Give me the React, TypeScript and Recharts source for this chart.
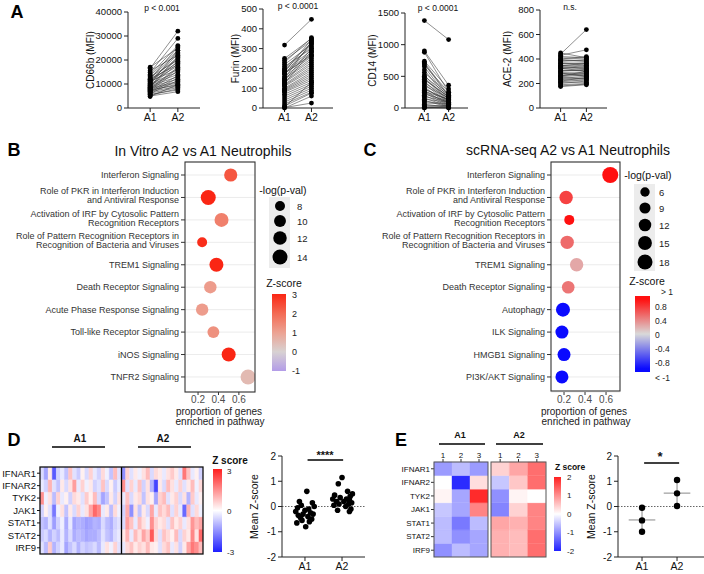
import React from 'react';
import {
  LineChart, Line, XAxis, YAxis, ScatterChart, Scatter, ZAxis, Cell,
  CartesianGrid, BarChart, Bar, ReferenceLine,
} from 'recharts';

const FONT = '"Liberation Sans", Arial, Helvetica, sans-serif';

// ---------------- Panel A data ----------------
const groups = ['A1', 'A2'];
const cd66bA1 = [17000,16500,15500,14800,14000,13500,13000,12500,12200,12000,11800,11500,11200,11000,10800,10500,10200,10000,9800,9500,9300,9000,8800,8600,8400,8200,8000,7800,7600,7400,7200,7000,6800,6500,6200,6000,5700,5400,5000,4800];
const cd66bA2 = [25000,32000,22000,29000,26000,24000,20000,23000,18000,25500,21000,19000,16000,22500,17500,20500,15000,24000,14000,19500,13000,18500,12000,21500,11000,17000,10500,16500,9500,15500,10000,13500,9000,12500,8500,11500,7500,8000,6800,9800];
const furinA1 = [318,250,240,230,220,210,200,195,190,185,180,175,170,160,150,145,140,135,130,125,120,115,110,100,95,90,85,80,70,60,50,40,30,20,10,5,2,0,150,175];
const furinA2 = [448,350,340,355,320,300,330,310,290,345,280,270,325,260,250,240,300,230,220,285,210,200,190,180,170,160,150,140,130,120,110,100,90,80,75,130,25,60,335,265];
const cd14A1 = [1380,900,880,740,720,700,680,650,600,560,520,500,480,450,420,400,380,350,330,300,280,260,240,220,200,180,160,140,120,100,80,60,40,20,10,5,0,300,250,450];
const cd14A2 = [1080,360,250,300,200,180,250,150,120,220,100,200,90,180,80,150,70,160,60,120,50,140,40,110,30,100,20,90,15,70,60,10,40,30,5,0,20,130,80,170];
const ace2A1 = [440,430,420,410,400,390,380,370,360,350,340,330,320,310,300,290,280,270,260,250,240,230,220,210,200,190,180,175,450,345,325,265,305,285,255,235,215,395,365,335];
const ace2A2 = [640,475,410,400,420,380,395,360,370,330,350,320,340,300,310,280,290,270,300,240,260,230,250,210,220,200,195,190,410,365,300,280,315,260,270,245,230,385,350,325];

// ---------------- Panel B data ----------------
const pathwaysB = [
  'Interferon Signaling',
  'Role of PKR in Interferon Induction\nand Antiviral Response',
  'Activation of IRF by Cytosolic Pattern\nRecognition Receptors',
  'Role of Pattern Recognition Receptors in\nRecognition of Bacteria and Viruses',
  'TREM1 Signaling',
  'Death Receptor Signaling',
  'Acute Phase Response Signaling',
  'Toll-like Receptor Signaling',
  'iNOS Signaling',
  'TNFR2 Signaling',
];
const propB = [0.52, 0.30, 0.43, 0.24, 0.38, 0.32, 0.24, 0.35, 0.50, 0.69];
const logpB = [11.5, 14, 12.6, 8, 12.6, 10.6, 10.6, 10, 12.6, 14];
const zB = [2.3, 3, 1.6, 2.9, 3, 1.1, 1.1, 1.3, 3, 0.5];
const sizeLegendB = [8, 10, 12, 14];
const zTicksB = [3, 2, 1, 0, -1];

// ---------------- Panel C data ----------------
const pathwaysC = [
  'Interferon Signaling',
  'Role of PKR in Interferon Induction\nand Antiviral Response',
  'Activation of IRF by Cytosolic Pattern\nRecognition Receptors',
  'Role of Pattern Recognition Receptors in\nRecognition of Bacteria and Viruses',
  'TREM1 Signaling',
  'Death Receptor Signaling',
  'Autophagy',
  'ILK Signaling',
  'HMGB1 Signaling',
  'PI3K/AKT Signaling',
];
const propC = [0.64, 0.22, 0.25, 0.23, 0.32, 0.24, 0.19, 0.18, 0.20, 0.18];
const logpC = [20.8, 14, 7, 14, 14, 12.2, 15.5, 13.1, 13.1, 13.1];
const zC = [1.2, 0.75, 1.0, 0.55, 0.25, 0.5, -1.2, -1.2, -1.2, -1.2];
const sizeLegendC = [6, 9, 12, 15, 18];
const zTicksC = ['> 1', '0.8', '0.4', '0', '-0.4', '-0.8', '< -1'];

// ---------------- Panel D data ----------------
const genes = ['IFNAR1', 'IFNAR2', 'TYK2', 'JAK1', 'STAT1', 'STAT2', 'IRF9'];
const heatD_A1 = [
  [-0.5,-1.2,0.3,-2.2,-0.6,-0.3,-0.8,0.8,-0.4,-0.7,0.2,-0.5,0.6,-0.3,-0.6,0.5,-0.2,-0.8,0.9,-0.4],
  [-0.3,-0.6,1.0,-0.4,-0.8,0.3,-0.5,0.4,1.3,-0.3,0.6,-0.2,0.3,-0.6,-0.4,0.8,-0.5,0.2,-0.7,-0.3],
  [1.5,-0.2,0.4,-0.9,0.6,-0.3,0.2,-0.6,0.5,0.3,-0.4,0.7,0.2,0.9,-0.5,-1.2,-0.8,0.3,-0.6,0.4],
  [-0.6,0.2,-0.4,-1.8,-0.2,0.4,-0.8,0.3,-0.5,0.6,-0.3,0.4,1.2,2.0,1.6,-0.3,0.3,-0.9,0.5,-0.2],
  [-0.8,-1.0,-0.4,-1.3,-0.6,-0.2,-1.1,-0.3,-1.2,-1.0,-1.1,-1.3,-1.2,-1.0,-1.1,-0.5,-0.9,-1.1,-0.6,-0.4],
  [-0.7,-0.5,-1.0,-0.6,-0.9,-0.3,-1.0,-0.5,-1.1,-0.9,-1.0,-1.2,-1.1,-1.1,-0.9,-0.4,-0.8,-1.0,-0.5,-0.3],
  [-0.4,-0.9,0.7,-1.0,-0.6,-0.3,-1.2,-0.8,-0.5,-1.0,-0.6,-0.8,-0.7,-0.5,-0.9,-0.3,0.4,-0.2,0.6,-0.4],
];
const heatD_A2 = [
  [-1.5,0.6,-0.4,0.3,-0.2,0.4,0.9,-0.5,0.5,0.3,-0.3,0.4,0.7,0.3,-0.4,1.8,0.8,-0.3,0.2,-0.6],
  [1.5,-0.4,0.6,-0.3,0.8,-0.6,0.4,-1.0,-2.5,0.3,-0.5,0.9,0.4,-0.3,0.6,-0.4,0.3,0.9,-0.2,0.5],
  [-0.3,0.8,-0.5,0.3,0.5,-0.8,0.4,0.2,-1.2,0.6,0.9,-0.4,0.3,0.6,-0.5,0.4,-1.0,0.7,-0.3,0.2],
  [-0.6,1.1,-1.5,0.4,-0.8,0.3,-0.5,1.2,-0.3,0.8,0.5,0.9,-0.4,0.6,-0.3,-2.0,1.0,-0.4,0.5,-0.2],
  [-0.5,1.3,0.8,-0.3,0.9,0.4,-0.2,1.5,0.6,0.3,0.5,-0.4,0.8,0.3,0.6,-0.3,0.4,1.4,0.9,1.2],
  [0.3,1.0,-0.3,0.9,0.4,1.2,0.7,2.2,0.5,-0.4,0.8,0.5,0.2,0.9,-0.5,0.6,0.3,1.6,0.4,2.0],
  [-0.3,0.5,0.8,0.3,0.6,0.4,0.9,0.3,0.2,-0.4,0.5,0.8,-0.3,0.4,-0.6,0.3,1.2,1.8,1.5,0.9],
];
const meanZD_A1 = [0.6,0.2,0.15,0.05,0.0,-0.05,-0.1,-0.15,-0.2,-0.25,-0.3,-0.3,-0.35,-0.4,-0.45,-0.5,-0.55,-0.6,-0.65,-0.8];
const jitD_A1 = [0.05,-0.15,0.2,-0.1,0.25,-0.2,0.1,0.0,-0.25,0.15,-0.05,0.22,-0.18,0.08,-0.12,0.18,-0.08,0.12,-0.22,0.02];
const meanZD_A2 = [1.15,0.9,0.6,0.5,0.45,0.4,0.35,0.3,0.3,0.25,0.2,0.2,0.15,0.1,0.1,0.05,0.0,-0.1,-0.15,-0.2];
const jitD_A2 = [0.0,-0.1,0.15,0.28,-0.2,0.22,-0.05,0.12,-0.25,0.2,0.05,-0.15,0.26,-0.08,0.18,-0.22,0.1,0.24,-0.12,0.2];

// ---------------- Panel E data ----------------
const sampleNums = ['1', '2', '3'];
const heatE_A1 = [
  [-0.9,-0.6,-0.9],
  [0.0,-1.9,0.3],
  [0.1,-0.8,1.9],
  [-0.5,-0.8,1.1],
  [-0.6,-1.2,-0.6],
  [-0.6,-1.0,-0.8],
  [-1.0,-0.6,-0.8],
];
const heatE_A2 = [
  [0.4,0.8,1.3],
  [-0.5,0.5,1.3],
  [-1.0,0.1,0.0],
  [-1.1,0.4,1.1],
  [0.8,0.7,1.1],
  [0.7,0.6,1.3],
  [0.7,0.6,1.3],
];
const meanZE_A1 = [-0.05, -0.55, -1.0];
const meanZE_A2 = [1.05, 0.52, 0.02];

// ---------------- colour helpers ----------------
type Stop = [number, string];
const hexRgb = (h: string) => [1, 3, 5].map((i) => parseInt(h.slice(i, i + 2), 16));
function ramp(stops: Stop[], v: number): string {
  const t = Math.max(stops[0][0], Math.min(stops[stops.length - 1][0], v));
  for (let i = 0; i < stops.length - 1; i++) {
    const [a, ca] = stops[i];
    const [b, cb] = stops[i + 1];
    if (t >= a && t <= b) {
      const f = (t - a) / (b - a);
      const A = hexRgb(ca), B = hexRgb(cb);
      const c = A.map((x, k) => Math.round(x + (B[k] - x) * f));
      return `rgb(${c[0]},${c[1]},${c[2]})`;
    }
  }
  return stops[stops.length - 1][1];
}
const rampB: Stop[] = [[-1, '#b39ce8'], [0, '#d8d2d2'], [1, '#eca292'], [2, '#f36a53'], [3, '#fa2614']];
const rampC: Stop[] = [[-1, '#0a0aff'], [0, '#d9d9d9'], [1, '#ff1010']];
const rampD: Stop[] = [[-3, '#1e1eff'], [0, '#ffffff'], [3, '#ff1e1e']];
const rampE: Stop[] = [[-2, '#2020ff'], [0, '#ffffff'], [2, '#ff2020']];

// ---------------- Panel A ----------------
function PairedChart(props: { a1: number[]; a2: number[]; label: string; ticks: number[]; left: number; yW: number; width: number; top: number }) {
  const { a1, a2, label, ticks, left, yW, width, top } = props;
  const pairs = a1.map((v, i) => [{ x: 1, y: v }, { x: 2, y: a2[i] }]);
  const max = ticks[ticks.length - 1];
  return (
    <div style={{ position: 'absolute', left, top: 0 }}>
      <LineChart width={width} height={125} margin={{ top, right: 0, bottom: 0, left: 0 }}>
        <XAxis type="number" dataKey="x" domain={[0.2, 2.8]} ticks={[1, 2]} interval={0}
          tickFormatter={(v: number) => groups[v - 1]} allowDataOverflow tickSize={4} tickMargin={2}
          height={17} stroke="#222" tick={{ fontSize: 10.5, fill: '#111' }} />
        <YAxis type="number" dataKey="y" domain={[0, max]} ticks={ticks} interval={0} width={yW}
          tickSize={4} tickMargin={2} stroke="#222" tick={{ fontSize: 9.5, fill: '#111' }}
          label={{ value: label, angle: -90, position: 'center', fontSize: 10, fill: '#111' }} />
        {pairs.map((p, i) => (
          <Line key={i} data={p} dataKey="y" stroke="#333" strokeWidth={0.55}
            dot={{ r: 2.4, fill: '#000', stroke: 'none' }} isAnimationActive={false} />
        ))}
      </LineChart>
    </div>
  );
}

// ---------------- Panels B, C ----------------
function PathTick(props: any) {
  const { x, y, payload, labels } = props;
  const lines: string[] = labels[payload.value].split('\n');
  const offs = lines.length === 1 ? [0] : [-6.2, 2.6];
  return (
    <text x={x} y={y} textAnchor="end" fontSize={9} fill="#333">
      {lines.map((l, i) => (
        <tspan key={i} x={x} y={y + offs[i]} dy="0.35em">{l}</tspan>
      ))}
    </text>
  );
}

function DotPlot(props: {
  left: number; yW: number; plotW: number; xDomain: [number, number]; labels: string[];
  prop: number[]; logp: number[]; z: number[]; zDomain: [number, number]; zRange: [number, number]; stops: Stop[];
}) {
  const { left, yW, plotW, xDomain, labels, prop, logp, z, zDomain, zRange, stops } = props;
  const data = labels.map((_, i) => ({ x: prop[i], y: i, p: logp[i], z: z[i] }));
  const idx = labels.map((_, i) => i);
  return (
    <div style={{ position: 'absolute', left, top: 157 }}>
      <ScatterChart width={yW + plotW} height={255} margin={{ top: 5, right: 0, bottom: 0, left: 0 }}>
        <CartesianGrid vertical={false} stroke="#e6e6e6" strokeWidth={0.8} />
        <XAxis type="number" dataKey="x" domain={xDomain} ticks={[0.2, 0.4, 0.6]} interval={0}
          tickFormatter={(v: number) => v.toFixed(1)} allowDataOverflow axisLine={false}
          tickSize={3} tickMargin={1} height={20} tick={{ fontSize: 10, fill: '#4d4d4d' }}
          tickLine={{ stroke: '#333' }} />
        <YAxis type="number" dataKey="y" domain={[-0.58, 9.67]} reversed allowDataOverflow ticks={idx}
          interval={0} width={yW} axisLine={false} tickSize={4} tickMargin={2}
          tickLine={{ stroke: '#333' }} tick={(p: any) => <PathTick {...p} labels={labels} />} />
        <ZAxis type="number" dataKey="p" domain={zDomain} range={zRange} />
        <Scatter data={data} isAnimationActive={false}>
          {data.map((d, i) => <Cell key={i} fill={ramp(stops, d.z)} />)}
        </Scatter>
      </ScatterChart>
    </div>
  );
}

// ---------------- Heatmaps ----------------
const colsD = [...heatD_A1[0].map((_, i) => ({ id: `A1-${i + 1}`, g: 0, c: i })),
  ...heatD_A2[0].map((_, i) => ({ id: `A2-${i + 1}`, g: 1, c: i }))].map((c) => {
  const row: any = { id: c.id, g: c.g, c: c.c };
  genes.forEach((g) => { row[g] = 1; });
  return row;
});
const geneTicks = genes.map((_, i) => i + 0.5);
const geneFmt = (v: number) => genes[genes.length - 1 - Math.floor(v)];

function HeatD() {
  return (
    <div style={{ position: 'absolute', left: 0, top: 467 }}>
      <BarChart width={203} height={87} data={colsD} margin={{ top: 0, right: 0, bottom: 0, left: 0 }}
        barCategoryGap={0} barGap={0}>
        <XAxis dataKey="id" hide />
        <YAxis type="number" domain={[0, 7]} ticks={geneTicks} tickFormatter={geneFmt} interval={0}
          width={40} tickSize={3} tickMargin={1} axisLine={false} tickLine={{ stroke: '#111' }}
          tick={{ fontSize: 9.5, fill: '#111' }} />
        {[...genes].reverse().map((g) => {
          const gi = genes.indexOf(g);
          return (
            <Bar key={g} dataKey={g} stackId="s" isAnimationActive={false}>
              {colsD.map((c: any, i: number) => {
                const v = (c.g === 0 ? heatD_A1 : heatD_A2)[gi][c.c];
                const col = ramp(rampD, v);
                return <Cell key={i} fill={col} stroke={col} strokeWidth={0.4} />;
              })}
            </Bar>
          );
        })}
        <ReferenceLine x="A2-1" position="start" stroke="#000" strokeWidth={1.3} />
      </BarChart>
    </div>
  );
}

function HeatE(props: { left: number; heat: number[][]; showY: boolean; width: number }) {
  const { left, heat, showY, width } = props;
  const cols = sampleNums.map((n, ci) => {
    const row: any = { n, c: ci };
    genes.forEach((g) => { row[g] = 1; });
    return row;
  });
  return (
    <div style={{ position: 'absolute', left, top: 448 }}>
      <BarChart width={width} height={109} data={cols} margin={{ top: 0, right: 0, bottom: 0, left: 0 }}
        barCategoryGap={0} barGap={0}>
        <XAxis dataKey="n" orientation="top" height={14} tickSize={3} tickMargin={1} axisLine={false}
          tickLine={{ stroke: '#333' }} tick={{ fontSize: 8, fill: '#111' }} interval={0} />
        <YAxis type="number" domain={[0, 7]} ticks={geneTicks} tickFormatter={geneFmt} interval={0}
          hide={!showY} width={showY ? 50 : 0} tickSize={3} tickMargin={1} axisLine={false}
          tickLine={{ stroke: '#333' }} tick={{ fontSize: 8, fill: '#111' }} />
        {[...genes].reverse().map((g) => {
          const gi = genes.indexOf(g);
          return (
            <Bar key={g} dataKey={g} stackId="s" isAnimationActive={false}>
              {cols.map((c: any, i: number) => {
                const col = ramp(rampE, heat[gi][c.c]);
                return <Cell key={i} fill={col} stroke={col} strokeWidth={0.4} />;
              })}
            </Bar>
          );
        })}
      </BarChart>
    </div>
  );
}

// ---------------- Mean Z-score plots ----------------
function MeanPlot(props: {
  left: number; yW: number; plotW: number; xDomain: [number, number];
  pts: { x: number; y: number }[]; sig: [number, number, number]; meanSd: boolean;
  a1: number[]; a2: number[]; r: number;
}) {
  const { left, yW, plotW, xDomain, pts, sig, meanSd, a1, a2, r } = props;
  const stats = [a1, a2].map((arr) => {
    const m = arr.reduce((s, v) => s + v, 0) / arr.length;
    const sd = Math.sqrt(arr.reduce((s, v) => s + (v - m) * (v - m), 0) / (arr.length - 1));
    return { m, sd };
  });
  return (
    <div style={{ position: 'absolute', left, top: 448 }}>
      <ScatterChart width={yW + plotW} height={126} margin={{ top: 8, right: 0, bottom: 0, left: 0 }}>
        <XAxis type="number" dataKey="x" domain={xDomain} ticks={[1, 2]} interval={0}
          tickFormatter={(v: number) => groups[v - 1]} allowDataOverflow tickSize={4} tickMargin={2}
          height={17} stroke="#222" tick={{ fontSize: 10.5, fill: '#111' }} />
        <YAxis type="number" dataKey="y" domain={[-2, 2]} ticks={[-2, -1, 0, 1, 2]} interval={0}
          width={yW} tickSize={4} tickMargin={2} stroke="#222" tick={{ fontSize: 10, fill: '#111' }}
          label={{ value: 'Mean Z-score', angle: -90, position: 'center', fontSize: 10.5, fill: '#111' }} />
        <ReferenceLine y={0} stroke="#555" strokeDasharray="1.5 1.5" strokeWidth={0.9} />
        {meanSd && stats.map((s, i) => (
          <ReferenceLine key={`m${i}`} segment={[{ x: i + 1 - 0.38, y: s.m }, { x: i + 1 + 0.38, y: s.m }]}
            stroke="#888" strokeWidth={1} ifOverflow="visible" />
        ))}
        {meanSd && stats.map((s, i) => (
          <ReferenceLine key={`s${i}`} segment={[{ x: i + 1, y: s.m - s.sd }, { x: i + 1, y: s.m + s.sd }]}
            stroke="#888" strokeWidth={1} ifOverflow="visible" />
        ))}
        <ReferenceLine segment={[{ x: sig[0], y: sig[2] }, { x: sig[1], y: sig[2] }]}
          stroke="#000" strokeWidth={1.6} ifOverflow="visible" />
        <Scatter data={pts} fill="#000" isAnimationActive={false}
          shape={(p: any) => <circle cx={p.cx} cy={p.cy} r={r} fill="#000" />} />
      </ScatterChart>
    </div>
  );
}

// ---------------- Overlay (letters, titles, legends) ----------------
function GradRect(props: { id: string; x: number; y: number; w: number; h: number }) {
  const { id, x, y, w, h } = props;
  return <rect x={x} y={y} width={w} height={h} fill={`url(#${id})`} />;
}

function Overlay() {
  const areaB = (v: number) => 78.5 + (v - 8) * (176.7 - 78.5) / 6;
  const areaC = (v: number) => 69.4 + (v - 6) * (176.7 - 69.4) / 12;
  const T = (x: number, y: number, s: string, size: number, extra: any = {}) => (
    <text x={x} y={y} fontSize={size} textAnchor="middle" dominantBaseline="central" fill="#111" {...extra}>{s}</text>
  );
  const gradStops = (stops: Stop[], lo: number, hi: number, n = 24) =>
    Array.from({ length: n + 1 }, (_, k) => {
      const v = hi - (hi - lo) * (k / n);
      return <stop key={k} offset={k / n} stopColor={ramp(stops, v)} />;
    });
  return (
    <svg width={704} height={574} style={{ position: 'absolute', left: 0, top: 0, pointerEvents: 'none' }}>
      <defs>
        <linearGradient id="gB" x1="0" y1="0" x2="0" y2="1">{gradStops(rampB, -1, 3)}</linearGradient>
        <linearGradient id="gC" x1="0" y1="0" x2="0" y2="1">{gradStops(rampC, -1.1, 1.1)}</linearGradient>
        <linearGradient id="gD" x1="0" y1="0" x2="0" y2="1">{gradStops(rampD, -3, 3)}</linearGradient>
        <linearGradient id="gE" x1="0" y1="0" x2="0" y2="1">{gradStops(rampE, -2, 2)}</linearGradient>
      </defs>
      {/* panel letters */}
      {T(17, 12, 'A', 18, { fontWeight: 'bold', fill: '#000' })}
      {T(14, 150, 'B', 18, { fontWeight: 'bold', fill: '#000' })}
      {T(370, 150, 'C', 18, { fontWeight: 'bold', fill: '#000' })}
      {T(14, 440, 'D', 18, { fontWeight: 'bold', fill: '#000' })}
      {T(401, 440, 'E', 18, { fontWeight: 'bold', fill: '#000' })}
      {/* p values */}
      {T(162, 8, 'p < 0.001', 8.5)}
      {T(298, 6, 'p < 0.0001', 8.5)}
      {T(438, 8, 'p < 0.0001', 8.5)}
      {T(570, 7, 'n.s.', 8.5)}
      {/* titles */}
      {T(203, 151, 'In Vitro A2 vs A1 Neutrophils', 14)}
      {T(568, 150, 'scRNA-seq A2 vs A1 Neutrophils', 14)}
      {/* boxes */}
      <rect x={185} y={162} width={70} height={230} fill="none" stroke="#333" strokeWidth={1.1} />
      <rect x={551} y={162} width={69} height={229} fill="none" stroke="#333" strokeWidth={1.1} />
      {/* x titles */}
      {T(219, 411, 'proportion of genes', 10, { fill: '#222' })}
      {T(220, 421.5, 'enriched in pathway', 10, { fill: '#222' })}
      {T(584, 411, 'proportion of genes', 10, { fill: '#222' })}
      {T(586, 421.5, 'enriched in pathway', 10, { fill: '#222' })}
      {/* legend B */}
      {T(283, 190, '-log(p-val)', 10.5)}
      <rect x={269} y={197} width={21} height={71} fill="#ececec" />
      {sizeLegendB.map((v, i) => {
        const cy = [206, 221, 238, 257][i];
        return (
          <g key={v}>
            <circle cx={280} cy={cy} r={Math.sqrt(areaB(v) / Math.PI)} fill="#000" />
            <text x={297} y={cy} fontSize={9.5} dominantBaseline="central" fill="#222">{v}</text>
          </g>
        );
      })}
      {T(284, 283, 'Z-score', 10.5)}
      <GradRect id="gB" x={272} y={294} w={14} h={77} />
      {zTicksB.map((v) => (
        <text key={v} x={292} y={295 + (3 - v) * 19.1} fontSize={9} dominantBaseline="central" fill="#222">{v}</text>
      ))}
      {/* legend C */}
      {T(648, 175, '-log(p-val)', 10.5)}
      <rect x={634} y={184} width={21} height={87} fill="#ececec" />
      {sizeLegendC.map((v, i) => {
        const cy = [192, 208, 225, 243, 262][i];
        return (
          <g key={v}>
            <circle cx={645} cy={cy} r={Math.sqrt(areaC(v) / Math.PI)} fill="#000" />
            <text x={659} y={cy} fontSize={9.5} dominantBaseline="central" fill="#222">{v}</text>
          </g>
        );
      })}
      {T(647, 281, 'Z-score', 10.5)}
      <GradRect id="gC" x={635} y={296} w={15} h={76} />
      {zTicksC.map((s, i) => (
        <text key={s} x={i === 0 ? 661 : 655} y={[292, 307, 321, 335, 349, 363, 378][i]} fontSize={8.5}
          dominantBaseline="central" fill="#222">{s}</text>
      ))}
      {/* panel D annotations */}
      {T(80, 438, 'A1', 10, { fontWeight: 'bold' })}
      <line x1={52} x2={105} y1={447} y2={447} stroke="#000" strokeWidth={1.5} />
      {T(163, 438, 'A2', 10, { fontWeight: 'bold' })}
      <line x1={138} x2={191} y1={447} y2={447} stroke="#000" strokeWidth={1.5} />
      <rect x={40} y={467} width={163} height={87} fill="none" stroke="#111" strokeWidth={1.3} />
      {T(230, 460.5, 'Z score', 10, { fontWeight: 'bold' })}
      <GradRect id="gD" x={213} y={469} w={9} h={83} />
      <text x={227} y={471} fontSize={8} dominantBaseline="central" fill="#222">3</text>
      <text x={227} y={511} fontSize={8} dominantBaseline="central" fill="#222">0</text>
      <text x={227} y={552} fontSize={8} dominantBaseline="central" fill="#222">-3</text>
      {T(325, 455, '****', 11, { fontWeight: 'bold' })}
      {/* panel E annotations */}
      {T(460, 435, 'A1', 9, { fontWeight: 'bold' })}
      <line x1={439} x2={485} y1={444} y2={444} stroke="#000" strokeWidth={1.3} />
      {T(519, 435, 'A2', 9, { fontWeight: 'bold' })}
      <line x1={496} x2={543} y1={444} y2={444} stroke="#000" strokeWidth={1.3} />
      <rect x={434} y={462} width={54} height={95} fill="none" stroke="#555" strokeWidth={1} />
      <rect x={491} y={462} width={55} height={95} fill="none" stroke="#555" strokeWidth={1} />
      {T(570, 467, 'Z score', 8.5, { fontWeight: 'bold' })}
      <GradRect id="gE" x={554} y={477} w={7} h={74} />
      {[2, 1, 0, -1, -2].map((v) => (
        <text key={v} x={567} y={514 - v * 18.5} fontSize={8} dominantBaseline="central" fill="#222">{v}</text>
      ))}
      {T(660, 456, '*', 13, { fontWeight: 'bold' })}
    </svg>
  );
}

export default function App() {
  const ptsD = [
    ...meanZD_A1.map((y, i) => ({ x: 1 + jitD_A1[i], y })),
    ...meanZD_A2.map((y, i) => ({ x: 2 + jitD_A2[i], y })),
  ];
  const ptsE = [
    ...meanZE_A1.map((y) => ({ x: 1, y })),
    ...meanZE_A2.map((y) => ({ x: 2, y })),
  ];
  return (
    <div style={{ position: 'absolute', left: 0, top: 0, width: 704, height: 574, background: '#fff', fontFamily: FONT, overflow: 'hidden' }}>
      <PairedChart a1={cd66bA1} a2={cd66bA2} label="CD66b (MFI)" ticks={[0, 10000, 20000, 30000, 40000]} left={53} yW={75} width={147} top={12} />
      <PairedChart a1={furinA1} a2={furinA2} label="Furin (MFI)" ticks={[0, 100, 200, 300, 400, 500]} left={207} yW={56} width={126} top={9} />
      <PairedChart a1={cd14A1} a2={cd14A2} label="CD14 (MFI)" ticks={[0, 500, 1000, 1500]} left={339} yW={66} width={129} top={13} />
      <PairedChart a1={ace2A1} a2={ace2A2} label="ACE-2 (MFI)" ticks={[0, 200, 400, 600, 800]} left={474} yW={66} width={133} top={10} />

      <DotPlot left={0} yW={185} plotW={70} xDomain={[0.072, 0.758]} labels={pathwaysB} prop={propB} logp={logpB} z={zB}
        zDomain={[8, 14]} zRange={[78.5, 176.7]} stops={rampB} />
      <DotPlot left={352} yW={199} plotW={69} xDomain={[0.076, 0.733]} labels={pathwaysC} prop={propC} logp={logpC} z={zC}
        zDomain={[7, 20.8]} zRange={[78.4, 201.7]} stops={rampC} />

      <HeatD />
      <HeatE left={384} heat={heatE_A1} showY={true} width={104} />
      <HeatE left={491} heat={heatE_A2} showY={false} width={55} />

      <MeanPlot left={226} yW={56} plotW={83} xDomain={[0.38, 2.62]} pts={ptsD} sig={[1.07, 2.03, 1.84]} meanSd={false}
        a1={meanZD_A1} a2={meanZD_A2} r={2.8} />
      <MeanPlot left={564} yW={54} plotW={86} xDomain={[0.314, 2.77]} pts={ptsE} sig={[1.06, 2.06, 1.72]} meanSd={true}
        a1={meanZE_A1} a2={meanZE_A2} r={3.2} />

      <Overlay />
    </div>
  );
}
